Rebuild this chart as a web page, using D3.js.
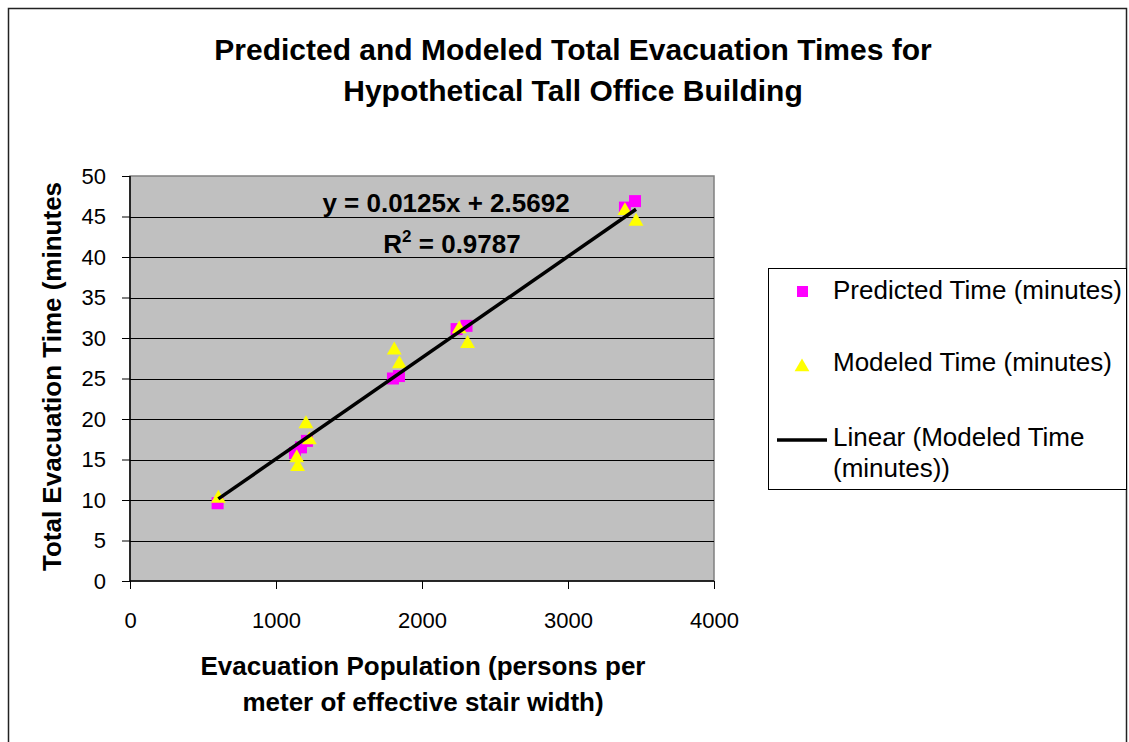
<!DOCTYPE html>
<html><head><meta charset="utf-8">
<script src="https://cdn.jsdelivr.net/npm/d3@7"></script>
<style>body{margin:0;background:#fff}svg{display:block}text{font-family:"Liberation Sans",Arial,sans-serif}</style>
</head><body>
<svg id="c" width="1129" height="742"></svg>
<script>
const predictedX = [600, 1130, 1171, 1212, 1801, 1842, 2237, 2305, 3390, 3459];
const predictedY = [9.6, 15.8, 16.5, 17.3, 25.0, 25.3, 31.1, 31.5, 46.1, 46.9];
const modeledX = [605, 1142, 1148, 1205, 1228, 1810, 1845, 2255, 2312, 3390, 3466];
const modeledY = [10.2, 15.2, 14.1, 19.4, 17.4, 28.5, 26.8, 31.1, 29.3, 45.7, 44.4];
const trendSlope = 0.0125, trendIntercept = 2.5692;
const xTicks = [0, 1000, 2000, 3000, 4000];
const yTicks = [0, 5, 10, 15, 20, 25, 30, 35, 40, 45, 50];
const titleLines = ["Predicted and Modeled Total Evacuation Times for", "Hypothetical Tall Office Building"];
const xTitleLines = ["Evacuation Population (persons per", "meter of effective stair width)"];
const yTitle = "Total Evacuation Time (minutes";
const legendLabels = ["Predicted Time (minutes)", "Modeled Time (minutes)", "Linear (Modeled Time", "(minutes))"];

const svg = d3.select("#c");
svg.append("rect").attr("x", 8.5).attr("y", 8.5).attr("width", 1118).attr("height", 740)
  .attr("fill", "#fff").attr("stroke", "#222").attr("stroke-width", 1.5);

const L = 130, R = 714, T = 176, B = 581;
const x = d3.scaleLinear().domain([0, 4000]).range([L, R]);
const y = d3.scaleLinear().domain([0, 50]).range([B, T]);

svg.append("rect").attr("x", L).attr("y", T).attr("width", R - L).attr("height", B - T)
  .attr("fill", "#C0C0C0").attr("stroke", "#808080").attr("stroke-width", 1.5);

svg.append("g").selectAll("line").data(yTicks.filter(d => d > 0 && d < 50)).join("line")
  .attr("x1", L).attr("x2", R).attr("y1", d => Math.round(y(d)) + 0.5).attr("y2", d => Math.round(y(d)) + 0.5)
  .attr("stroke", "#000").attr("stroke-width", 1);

const yAxis = d3.axisLeft(y).tickValues(yTicks).tickSize(8).tickPadding(16).tickFormat(d3.format("d"));
const gy = svg.append("g").attr("transform", `translate(${L},0)`).call(yAxis);
const xAxis = d3.axisBottom(x).tickValues(xTicks).tickSize(8).tickPadding(23).tickFormat(d3.format("d"));
const gx = svg.append("g").attr("transform", `translate(0,${B})`).call(xAxis);
[gx, gy].forEach(g => {
  g.select(".domain").attr("stroke", "#000").attr("stroke-width", 1.5);
  g.selectAll(".tick line").attr("stroke", "#000");
  g.selectAll(".tick text").attr("font-size", 22).attr("fill", "#000")
    .attr("font-family", "Liberation Sans, Arial, sans-serif");
});
gx.select(".domain").attr("d", `M${L},0H${R}`);
gy.select(".domain").attr("d", `M0,${B}V${T}`);

const tx = d3.extent(modeledX);
const line = d3.line().x(d => x(d)).y(d => y(trendSlope * d + trendIntercept));

const sq = 12;
svg.append("g").selectAll("rect").data(predictedX.map((d, i) => [d, predictedY[i]])).join("rect")
  .attr("x", d => x(d[0]) - sq / 2).attr("y", d => y(d[1]) - sq / 2).attr("width", sq).attr("height", sq)
  .attr("fill", "#FF00FF");
const tri = d3.symbol().type(d3.symbolTriangle).size(95);
svg.append("g").selectAll("path").data(modeledX.map((d, i) => [d, modeledY[i]])).join("path")
  .attr("d", tri).attr("transform", d => `translate(${x(d[0])},${y(d[1])})`)
  .attr("fill", "#FFFF00");
svg.append("path").attr("d", line(tx)).attr("stroke", "#000").attr("stroke-width", 3.5).attr("fill", "none");

const eq = svg.append("g").attr("font-weight", "bold").attr("font-size", 26).attr("text-anchor", "middle");
eq.append("text").attr("x", 446).attr("y", 212).text("y = 0.0125x + 2.5692");
const r2 = eq.append("text").attr("x", 452).attr("y", 253);
r2.append("tspan").text("R");
r2.append("tspan").attr("dy", -11).attr("font-size", 17).text("2");
r2.append("tspan").attr("dy", 11).text(" = 0.9787");

svg.append("g").attr("font-weight", "bold").attr("font-size", 30).attr("text-anchor", "middle")
  .selectAll("text").data(titleLines).join("text")
  .attr("x", 573).attr("y", (d, i) => 60 + i * 41).text(d => d);
svg.append("g").attr("font-weight", "bold").attr("font-size", 26).attr("text-anchor", "middle")
  .selectAll("text").data(xTitleLines).join("text")
  .attr("x", 423).attr("y", (d, i) => 675 + i * 36).text(d => d);
svg.append("text").attr("font-weight", "bold").attr("font-size", 26).attr("text-anchor", "middle")
  .attr("transform", `translate(61,${(T + B) / 2 - 2}) rotate(-90)`).text(yTitle);

const lg = svg.append("g");
lg.append("rect").attr("x", 768.5).attr("y", 268.5).attr("width", 358).attr("height", 221)
  .attr("fill", "#fff").attr("stroke", "#000").attr("stroke-width", 1);
lg.append("rect").attr("x", 797).attr("y", 286).attr("width", 11).attr("height", 11).attr("fill", "#FF00FF");
lg.append("path").attr("d", tri).attr("transform", "translate(802,367)").attr("fill", "#FFFF00");
lg.append("line").attr("x1", 777).attr("x2", 827).attr("y1", 440).attr("y2", 440).attr("stroke", "#000").attr("stroke-width", 3.5);
const lt = lg.append("g").attr("font-size", 26);
lt.append("text").attr("x", 833).attr("y", 299).text(legendLabels[0]);
lt.append("text").attr("x", 833).attr("y", 371).text(legendLabels[1]);
lt.append("text").attr("x", 833).attr("y", 446).text(legendLabels[2]);
lt.append("text").attr("x", 833).attr("y", 477).text(legendLabels[3]);
</script>
</body></html>
